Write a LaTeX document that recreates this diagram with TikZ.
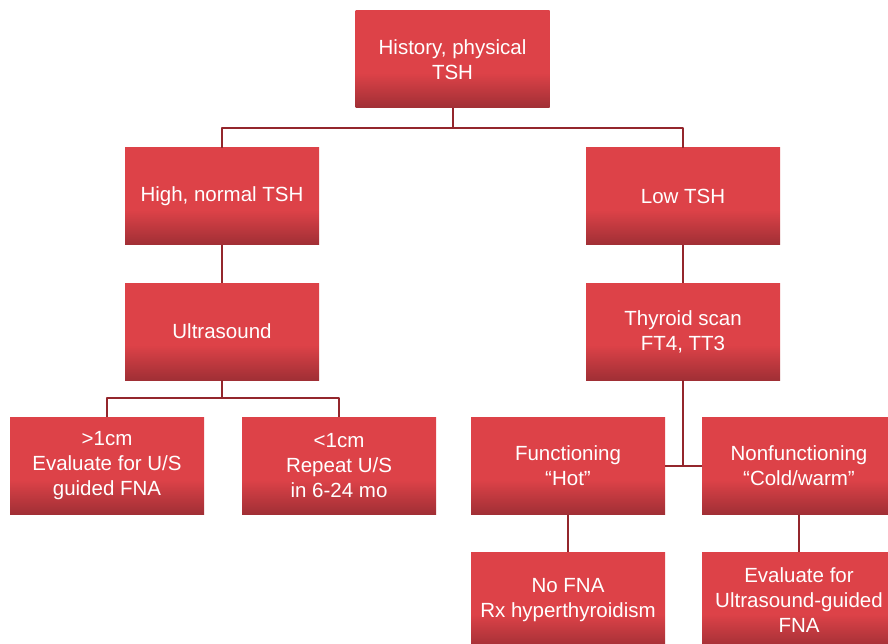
\documentclass[tikz,border=0pt]{standalone}
\usepackage{fontspec}
\setmainfont{Liberation Sans}
\usetikzlibrary{positioning}
\definecolor{boxred}{RGB}{221,66,72}
\definecolor{boxdark}{RGB}{160,47,53}
\definecolor{linkred}{RGB}{148,38,44}
\pgfdeclareverticalshading{boxshade}{100bp}{color(0bp)=(boxdark); color(25bp)=(boxdark); color(43bp)=(boxred); color(100bp)=(boxred)}
\begin{document}
\begin{tikzpicture}[x=1pt,y=-1pt, font=\fontsize{20.5}{25}\selectfont, line join=round,
	box/.style={shading=boxshade, minimum width=194pt, minimum height=97pt, inner sep=0pt, align=center, text=white},
	link/.style={draw=linkred, line width=2pt}]
	\def\xl{222} \def\xr{683} % columns
	\useasboundingbox (0,0) rectangle (888,644);
	\node[box] (hist) at (452.5,59.5) {History, physical\\TSH};
	\node[box] (high) at (\xl,196.5) {High, normal TSH};
	\node[box] (low) at (\xr,196.5) {Low TSH};
	\node[box] (us) at (\xl,331.5) {Ultrasound};
	\node[box] (scan) at (\xr,331.5) {Thyroid scan\\FT4, TT3};
	\node[box] (big) at (107,466) {>1cm\\Evaluate for U/S\\guided FNA};
	\node[box] (small) at (339,466) {<1cm\\Repeat U/S\\in 6-24 mo};
	\node[box] (func) at (568,466) {Functioning\\“Hot”};
	\node[box] (nonfunc) at (799,466) {Nonfunctioning\\“Cold/warm”};
	\node[box] (nofna) at (568,600.5) {No FNA\\Rx hyperthyroidism};
	\node[box] (evalus) at (799,600.5) {Evaluate for\\Ultrasound-guided\\FNA};
	% connectors
	\draw[link] (hist.south) -- ++(0,20) -| (high.north);
	\draw[link] (hist.south) -- ++(0,20) -| (low.north);
	\draw[link] (high.south) -- (us.north);
	\draw[link] (low.south) -- (scan.north);
	\draw[link] (us.south) -- ++(0,18) -| (big.north);
	\draw[link] (us.south) -- ++(0,18) -| (small.north);
	\draw[link] (scan.south) -- (scan.south |- func.east);
	\draw[link] (func.east) -- (nonfunc.west);
	\draw[link] (func.south) -- (nofna.north);
	\draw[link] (nonfunc.south) -- (evalus.north);
\end{tikzpicture}
\end{document}
